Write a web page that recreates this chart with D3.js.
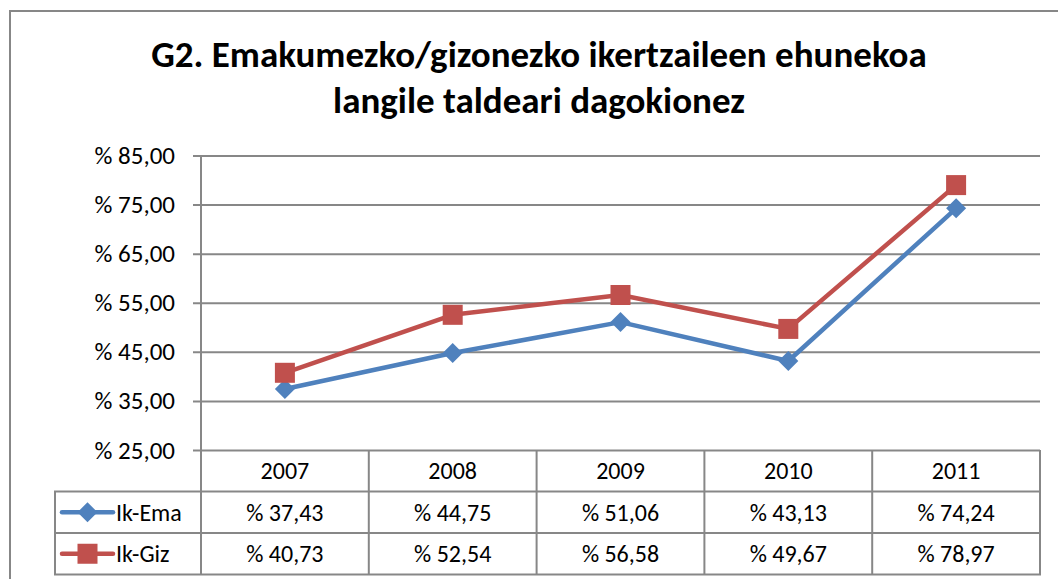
<!DOCTYPE html>
<html>
<head>
<meta charset="utf-8">
<script src="https://cdn.jsdelivr.net/npm/d3@7"></script>
<style>
  body { margin: 0; background: #fff; }
  text { font-family: Carlito, Calibri, Lato, sans-serif; fill: #000; }
</style>
</head>
<body>
<div id="chart"></div>
<script>
// data
var years = ["2007", "2008", "2009", "2010", "2011"];
var ikEma = [37.43, 44.75, 51.06, 43.13, 74.24];
var ikGiz = [40.73, 52.54, 56.58, 49.67, 78.97];
var seriesNames = ["Ik-Ema", "Ik-Giz"];
var yTicks = [25, 35, 45, 55, 65, 75, 85];
var titleLines = ["G2. Emakumezko/gizonezko ikertzaileen ehunekoa", "langile taldeari dagokionez"];

var W = 1058, H = 579;
var grey = "#878787";
var colors = ["#4f81bd", "#c0504d"];

var svg = d3.select("#chart")
  .append("svg")
    .attr("width", W)
    .attr("height", H);

// chart area frame (runs off the page on the right and bottom)
svg.append("rect")
  .attr("x", 10).attr("y", 11)
  .attr("width", W + 20).attr("height", H + 20)
  .attr("fill", "#fff")
  .attr("stroke", grey)
  .attr("stroke-width", 2);

// title
svg.append("g").selectAll("text")
  .data(titleLines)
  .enter().append("text")
    .attr("x", 539)
    .attr("y", function(d, i) { return 67 + i * 46; })
    .attr("text-anchor", "middle")
    .style("font-size", "37px")
    .style("font-weight", "bold")
    .text(function(d) { return d; });

var plotLeft = 201, plotRight = 1040;

var x = d3.scaleBand()
  .domain(years)
  .range([plotLeft, plotRight]);

var y = d3.scaleLinear()
  .domain([25, 85])
  .range([450, 155.5]);

var fmt = function(v) { return "% " + d3.format(".2f")(v).replace(".", ","); };

// gridlines + y labels
var yAxis = svg.append("g")
  .attr("transform", "translate(" + plotLeft + ",0)")
  .call(d3.axisLeft(y)
    .tickValues(yTicks)
    .tickSizeInner(-(plotRight - plotLeft))
    .tickSizeOuter(0)
    .tickPadding(26)
    .tickFormat(fmt));
yAxis.select(".domain").remove();
yAxis.selectAll(".tick line")
  .attr("x1", -8)
  .attr("stroke", grey)
  .attr("stroke-width", 2);
yAxis.selectAll(".tick text")
  .attr("font-family", null)
  .style("font-size", "25px");

// data table geometry
var rowTop = 450, rowH = 41.5, legendLeft = 55;
var tb = svg.append("g").attr("class", "table");

// vertical axis line running down through the table header
tb.append("line")
  .attr("x1", plotLeft).attr("x2", plotLeft)
  .attr("y1", y(85)).attr("y2", rowTop + rowH * 3)
  .attr("stroke", grey).attr("stroke-width", 2);

// column separators
tb.selectAll("line.col")
  .data(years)
  .enter().append("line")
    .attr("class", "col")
    .attr("x1", function(d) { return x(d) + x.bandwidth(); })
    .attr("x2", function(d) { return x(d) + x.bandwidth(); })
    .attr("y1", rowTop).attr("y2", rowTop + rowH * 3)
    .attr("stroke", grey).attr("stroke-width", 2);

// horizontal table rules
[1, 2, 3].forEach(function(r) {
  tb.append("line")
    .attr("x1", legendLeft - 1).attr("x2", plotRight + 1)
    .attr("y1", rowTop + rowH * r).attr("y2", rowTop + rowH * r)
    .attr("stroke", grey).attr("stroke-width", 2);
});
tb.append("line")
  .attr("x1", legendLeft).attr("x2", legendLeft)
  .attr("y1", rowTop + rowH).attr("y2", rowTop + rowH * 3)
  .attr("stroke", grey).attr("stroke-width", 2);

// header row years
tb.selectAll("text.year")
  .data(years)
  .enter().append("text")
    .attr("class", "year")
    .attr("x", function(d) { return x(d) + x.bandwidth() / 2; })
    .attr("y", rowTop + rowH / 2)
    .attr("dy", "0.35em")
    .attr("text-anchor", "middle")
    .style("font-size", "24px")
    .text(function(d) { return d; });

// value rows
[ikEma, ikGiz].forEach(function(vals, s) {
  tb.selectAll("text.val" + s)
    .data(vals)
    .enter().append("text")
      .attr("class", "val" + s)
      .attr("x", function(d, i) { return x(years[i]) + x.bandwidth() / 2; })
      .attr("y", rowTop + rowH * (s + 1.5))
      .attr("dy", "0.35em")
      .attr("text-anchor", "middle")
      .style("font-size", "24px")
      .text(fmt);
});

// marker shapes
var diamond = d3.symbol().type(d3.symbolSquare).size(200);
function drawMarker(g, s, cx, cy) {
  if (s === 0) {
    g.append("path")
      .attr("d", diamond())
      .attr("transform", "translate(" + cx + "," + cy + ") rotate(45)")
      .attr("fill", colors[s]);
  } else {
    g.append("rect")
      .attr("x", cx - 10).attr("y", cy - 10)
      .attr("width", 20).attr("height", 20)
      .attr("fill", colors[s]);
  }
}

// legend keys in the table
seriesNames.forEach(function(name, s) {
  var cy = rowTop + rowH * (s + 1.5);
  tb.append("line")
    .attr("x1", 62).attr("x2", 113)
    .attr("y1", cy).attr("y2", cy)
    .attr("stroke", colors[s])
    .attr("stroke-width", 4.5)
    .attr("stroke-linecap", "round");
  drawMarker(tb, s, 87.5, cy);
  tb.append("text")
    .attr("x", 116)
    .attr("y", cy)
    .attr("dy", "0.35em")
    .style("font-size", "24px")
    .text(name);
});

// lines + markers
var line = d3.line()
  .x(function(d, i) { return x(years[i]) + x.bandwidth() / 2; })
  .y(function(d) { return y(d); });

var graph = svg.append("g");
[ikEma, ikGiz].forEach(function(vals, s) {
  graph.append("path")
    .datum(vals)
    .attr("d", line)
    .attr("fill", "none")
    .attr("stroke", colors[s])
    .attr("stroke-width", 4.5)
    .attr("stroke-linejoin", "round");
});
[ikEma, ikGiz].forEach(function(vals, s) {
  vals.forEach(function(v, i) {
    drawMarker(graph, s, x(years[i]) + x.bandwidth() / 2, y(v));
  });
});
</script>
</body>
</html>
